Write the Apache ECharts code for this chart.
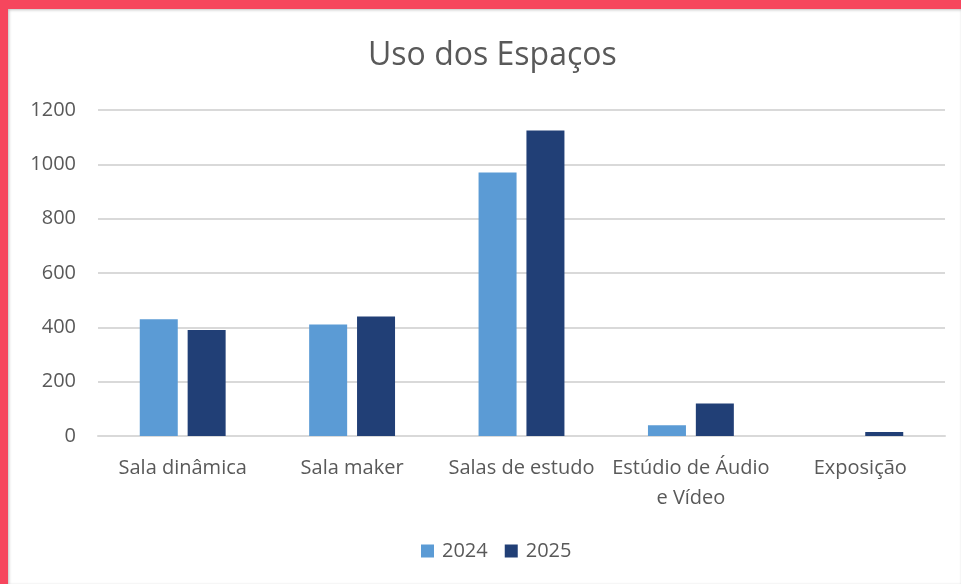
<!DOCTYPE html>
<html>
<head>
<meta charset="utf-8">
<script src="https://cdn.jsdelivr.net/npm/echarts@6/dist/echarts.min.js"></script>
<style>
  html, body { margin: 0; padding: 0; width: 961px; height: 584px; overflow: hidden; background: #f6465d; }
  #frame { position: absolute; left: 8px; top: 9px; width: 953px; height: 575px; background: #fff; box-shadow: inset 1px 1px 3px rgba(0,0,0,0.25); }
  #chart { position: absolute; left: 0; top: 0; width: 961px; height: 584px; }
</style>
</head>
<body>
<div id="frame"></div>
<div id="chart"></div>
<script>
// Uso dos Espaços
var categories = ['Sala dinâmica', 'Sala maker', 'Salas de estudo', 'Estúdio de Áudio\ne Vídeo', 'Exposição']
var values2024 = [430, 410, 970, 40, 0]
var values2025 = [390, 440, 1125, 120, 15]
var yTicks = { min: 0, max: 1200, interval: 200 }

var chartDom = document.getElementById('chart')
var myChart = echarts.init(chartDom)
var textColor = '#595959'
var font = '"Open Sans", "Noto Sans", sans-serif'
var option = {
  animation: false,
  title: {
    text: 'Uso dos Espaços',
    left: 363,
    top: 35,
    textStyle: { fontFamily: font, fontSize: 32, fontWeight: 'normal', color: textColor }
  },
  legend: {
    bottom: 18,
    left: 416,
    icon: 'rect',
    itemWidth: 13,
    itemHeight: 13,
    itemGap: 17,
    textStyle: { fontFamily: font, fontSize: 20, color: textColor, padding: [0, 0, 0, 3] },
    data: ['2024', '2025']
  },
  grid: { left: 98, right: 16, top: 110, bottom: 148, containLabel: false },
  xAxis: {
    type: 'category',
    data: categories,
    axisLine: { lineStyle: { color: '#d9d9d9', width: 2 } },
    axisTick: { show: false },
    axisLabel: { fontFamily: font, fontSize: 20, color: textColor, margin: 17, lineHeight: 30, interval: 0 }
  },
  yAxis: {
    type: 'value',
    min: yTicks.min,
    max: yTicks.max,
    interval: yTicks.interval,
    axisLine: { show: false },
    axisTick: { show: false },
    axisLabel: { fontFamily: font, fontSize: 20, color: textColor, margin: 22, formatter: function (v) { return String(v) } },
    splitLine: { lineStyle: { color: '#d9d9d9', width: 2 } }
  },
  series: [
    { name: '2024', type: 'bar', data: values2024, barWidth: 38, barGap: '26%', itemStyle: { color: '#5b9bd5' } },
    { name: '2025', type: 'bar', data: values2025, barWidth: 38, itemStyle: { color: '#213f76' } }
  ]
}
option && myChart.setOption(option)
</script>
</body>
</html>
